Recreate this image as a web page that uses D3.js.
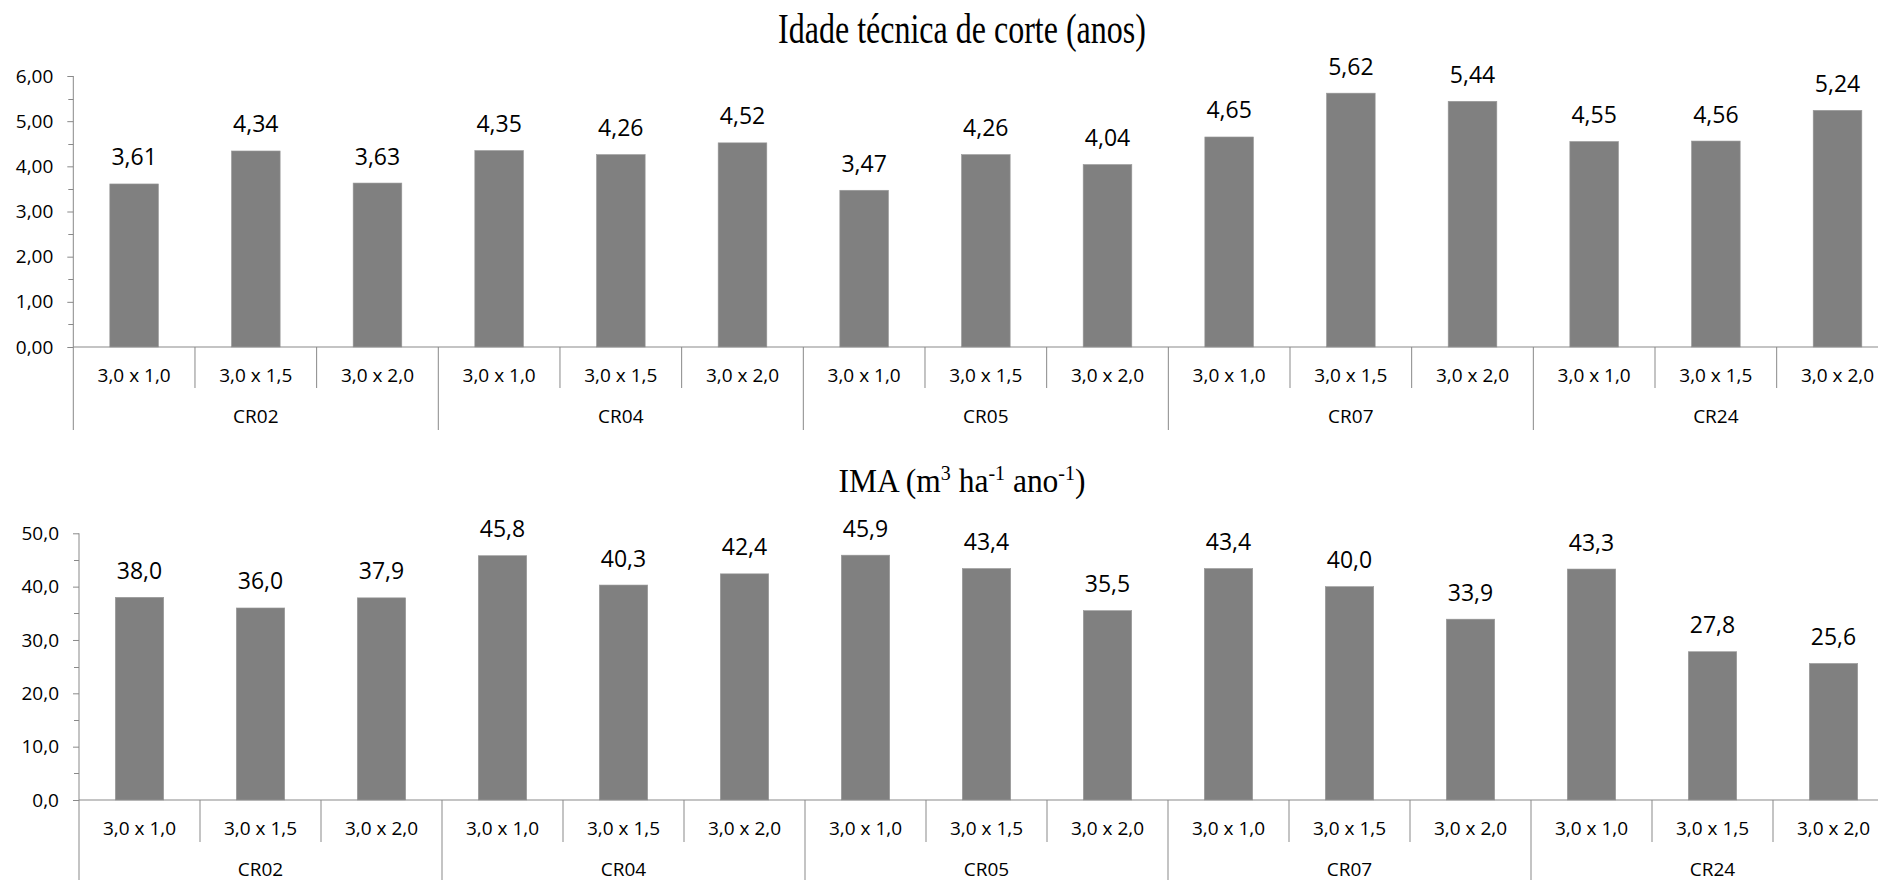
<!DOCTYPE html>
<html>
<head>
<meta charset="utf-8">
<script src="https://cdn.jsdelivr.net/npm/d3@7"></script>
<style>
  html, body { margin: 0; padding: 0; background: #fff; overflow: hidden; }
  svg { display: block; }
</style>
</head>
<body>
<svg id="chart" width="1878" height="880"></svg>
<script>
// ---- data ----
const groups = ["CR02", "CR04", "CR05", "CR07", "CR24"];
const spacings = ["3,0 x 1,0", "3,0 x 1,5", "3,0 x 2,0"];
const idadeValues = [3.61, 4.34, 3.63, 4.35, 4.26, 4.52, 3.47, 4.26, 4.04, 4.65, 5.62, 5.44, 4.55, 4.56, 5.24];
const imaValues = [38.0, 36.0, 37.9, 45.8, 40.3, 42.4, 45.9, 43.4, 35.5, 43.4, 40.0, 33.9, 43.3, 27.8, 25.6];
const idadeTicks = [0, 1, 2, 3, 4, 5, 6];
const imaTicks = [0, 10, 20, 30, 40, 50];
const idadeTitle = "Idade técnica de corte (anos)";

const locale = d3.formatLocale({ decimal: ",", thousands: ".", grouping: [3], currency: ["", ""] });
const svg = d3.select("#chart");

const AXIS = "#898989";
const BAR = "#808080";
const FONT = "'Open Sans', 'Noto Sans', sans-serif";

function panel(cfg) {
  const keys = [];
  groups.forEach(g => spacings.forEach(s => keys.push(g + "|" + s)));
  const data = keys.map((k, i) => ({ key: k, group: k.split("|")[0], spacing: k.split("|")[1], value: cfg.values[i] }));

  const x = d3.scaleBand().domain(keys).range([cfg.x0, cfg.x0 + cfg.catW * keys.length]).padding(0);
  const y = d3.scaleLinear().domain([0, d3.max(cfg.ticks)]).range([cfg.base, cfg.top]);
  const bw = x.bandwidth();
  const g = svg.append("g");

  // bars
  g.selectAll("rect.bar").data(data).enter().append("rect")
    .attr("class", "bar")
    .attr("x", d => x(d.key) + bw * 0.3)
    .attr("width", bw * 0.4)
    .attr("y", d => y(d.value))
    .attr("height", d => cfg.base - y(d.value))
    .attr("fill", BAR)
    .attr("stroke", "#9a9a9a")
    .attr("stroke-width", 0.6);

  // value labels
  g.selectAll("text.val").data(data).enter().append("text")
    .attr("class", "val")
    .attr("x", d => x(d.key) + bw / 2)
    .attr("y", d => y(d.value) - 18.5)
    .attr("text-anchor", "middle")
    .attr("font-family", FONT)
    .attr("font-size", 23)
    .attr("fill", "#000")
    .text(d => cfg.fmt(d.value));

  // y axis (major)
  const yAxis = d3.axisLeft(y).tickValues(cfg.ticks).tickFormat(cfg.fmt)
    .tickSize(6).tickPadding(cfg.tickPad);
  const ya = g.append("g").attr("transform", `translate(${cfg.x0},0)`).call(yAxis);
  ya.select(".domain").remove();
  ya.selectAll("line").attr("stroke", AXIS);
  ya.selectAll("text").attr("font-family", FONT).attr("font-size", 19).attr("fill", "#000");

  // minor ticks
  const step = cfg.ticks[1] - cfg.ticks[0];
  const minor = cfg.ticks.slice(0, -1).map(t => t + step / 2);
  g.selectAll("line.minor").data(minor).enter().append("line")
    .attr("x1", cfg.x0 - 5).attr("x2", cfg.x0)
    .attr("y1", d => Math.round(y(d)) + 0.5).attr("y2", d => Math.round(y(d)) + 0.5)
    .attr("stroke", AXIS);

  // vertical y axis line (extends down through category area)
  g.append("line")
    .attr("x1", cfg.x0).attr("x2", cfg.x0)
    .attr("y1", y(d3.max(cfg.ticks))).attr("y2", cfg.base + cfg.groupSepLen)
    .attr("stroke", AXIS);

  // baseline
  g.append("line")
    .attr("x1", cfg.x0).attr("x2", cfg.x0 + cfg.catW * keys.length)
    .attr("y1", cfg.base).attr("y2", cfg.base)
    .attr("stroke", AXIS);

  // category separators
  const bounds = keys.map(k => x(k)).concat([x(keys[keys.length - 1]) + bw]);
  g.selectAll("line.sep").data(bounds.slice(1)).enter().append("line")
    .attr("x1", d => d).attr("x2", d => d)
    .attr("y1", cfg.base)
    .attr("y2", (d, i) => ((i + 1) % spacings.length === 0) ? cfg.base + cfg.groupSepLen : cfg.base + cfg.catSepLen)
    .attr("stroke", AXIS);

  // category labels
  g.selectAll("text.cat").data(data).enter().append("text")
    .attr("x", d => x(d.key) + bw / 2)
    .attr("y", cfg.base + cfg.catLabelDy)
    .attr("text-anchor", "middle")
    .attr("font-family", FONT)
    .attr("font-size", 19)
    .attr("fill", "#000")
    .text(d => d.spacing);

  // group labels
  g.selectAll("text.grp").data(groups).enter().append("text")
    .attr("x", gr => {
      const a = x(gr + "|" + spacings[0]);
      const b = x(gr + "|" + spacings[spacings.length - 1]) + bw;
      return (a + b) / 2;
    })
    .attr("y", cfg.base + cfg.grpLabelDy)
    .attr("text-anchor", "middle")
    .attr("font-family", FONT)
    .attr("font-size", 19)
    .attr("fill", "#000")
    .text(gr => gr);
}

// Top panel
panel({
  values: idadeValues, ticks: idadeTicks, fmt: locale.format(".2f"),
  x0: 73.3, catW: 121.67, base: 347, top: 76, tickPad: 14,
  catSepLen: 41, groupSepLen: 83, catLabelDy: 35, grpLabelDy: 76
});

// Bottom panel
panel({
  values: imaValues, ticks: imaTicks, fmt: locale.format(".1f"),
  x0: 79, catW: 121, base: 800, top: 533.3, tickPad: 14,
  catSepLen: 42, groupSepLen: 90, catLabelDy: 34.5, grpLabelDy: 75.5
});

// Titles
svg.append("text")
  .attr("transform", "translate(962,42.7) scale(1,1.3)")
  .attr("text-anchor", "middle")
  .attr("font-family", "'Liberation Serif', 'Times New Roman', serif")
  .attr("font-size", 32)
  .attr("fill", "#000")
  .text(idadeTitle);

const t2 = svg.append("text")
  .attr("transform", "translate(962,491.7) scale(1,1.06)")
  .attr("text-anchor", "middle")
  .attr("font-family", "'Liberation Serif', 'Times New Roman', serif")
  .attr("font-size", 31.5)
  .attr("fill", "#000");
const parts = [
  ["IMA (m", false], ["3", true], [" ha", false], ["-1", true], [" ano", false], ["-1", true], [")", false]
];
parts.forEach(([s, sup]) => {
  t2.append("tspan")
    .attr("font-size", sup ? 20 : 31.5)
    .attr("baseline-shift", sup ? "11" : null)
    .text(s);
});
</script>
</body>
</html>
